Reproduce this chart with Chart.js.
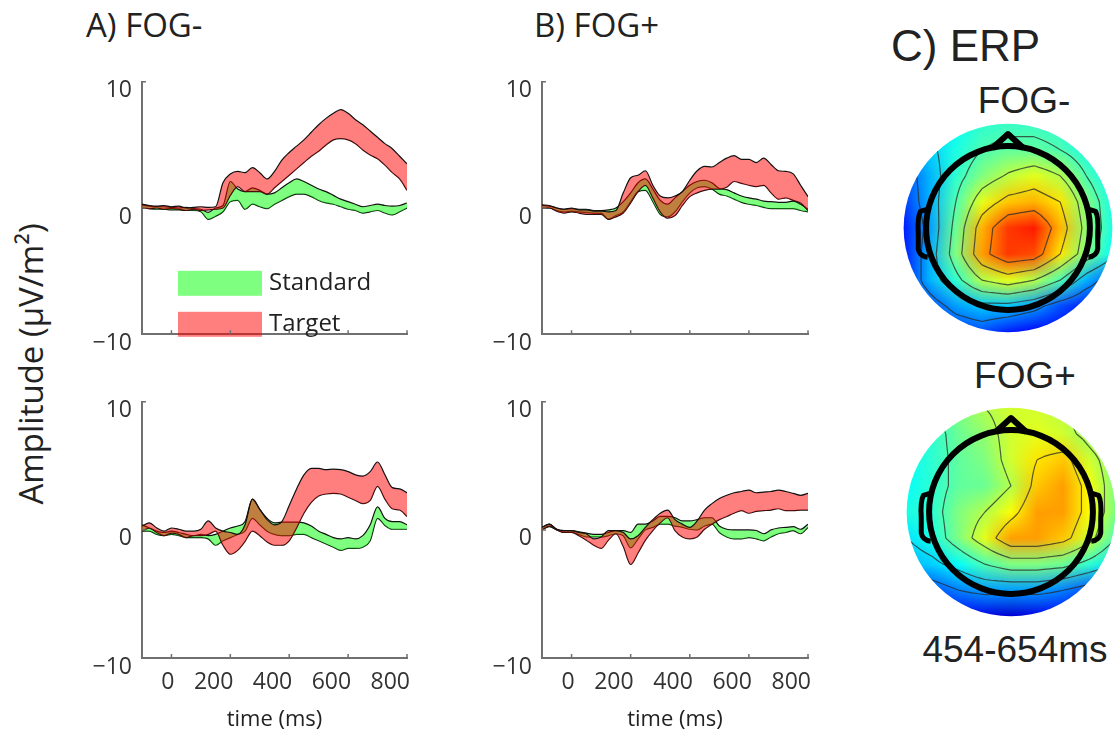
<!DOCTYPE html>
<html>
<head>
<meta charset="utf-8">
<script src="https://cdn.jsdelivr.net/npm/chart.js@4.4.0/dist/chart.umd.min.js"></script>
<style>
  body { margin: 0; width: 1115px; height: 738px; overflow: hidden; background: #fff; position: relative; }
  canvas { position: absolute; }
  .txt { position: absolute; white-space: nowrap; line-height: 1; color: #222; }
  .os { font-family: "Open Sans", sans-serif; }
  .hv { font-family: "Liberation Sans", Arial, sans-serif; }
</style>
</head>
<body>
<div class="txt os" style="left:86px;top:8px;font-size:33px">A) FOG-</div>
<div class="txt os" style="left:534px;top:8px;font-size:33px">B) FOG+</div>
<div class="txt os" style="left:30px;top:364px;font-size:33px;transform:translate(-50%,-50%) rotate(-90deg)">Amplitude (μV/m²)</div>
<div class="txt hv" style="left:891px;top:24px;font-size:44px">C) ERP</div>
<div class="txt hv" style="left:1024px;top:82px;font-size:37px;transform:translateX(-50%)">FOG-</div>
<div class="txt hv" style="left:1025px;top:357px;font-size:37px;transform:translateX(-50%)">FOG+</div>
<div class="txt hv" style="left:1015px;top:631px;font-size:37px;transform:translateX(-50%)">454-654ms</div>

<canvas id="aTop"></canvas>
<canvas id="bTop"></canvas>
<canvas id="aBot"></canvas>
<canvas id="bBot"></canvas>
<canvas id="topoMinus"></canvas>
<canvas id="topoPlus"></canvas>

<script>
// time axis (ms)
const times = [-100, -75, -50, -25, 0, 25, 50, 75, 100, 125, 150, 175, 200, 225, 250, 275, 300, 325, 350,
  375, 400, 425, 450, 475, 500, 525, 550, 575, 600, 625, 650, 675, 700, 725, 750, 775, 800];
const xTickValues = [0, 200, 400, 600, 800];
const yTickValues = [-10, 0, 10];
const legendLabels = ['Standard', 'Target'];

// A) FOG-  top row
const aTopStdUpper = [0.25, 0.15, 0.1, 0.1, 0.05, 0.0, 0.05, -0.05, -0.1, -0.35, 0.0, 0.2, 2.1, 1.5, 1.3, 1.6, 1.4, 1.1, 1.2, 1.6, 2.0, 2.3, 2.1, 1.8, 1.5, 1.3, 1.0, 0.7, 0.5, 0.3, 0.1, 0.2, 0.3, 0.2, 0.15, 0.2, 0.4];
const aTopStdLower = [0.05, -0.05, -0.1, -0.1, -0.15, -0.15, -0.2, -0.2, -0.3, -0.9, -0.65, -0.3, 0.5, 0.6, -0.1, 0.3, 0.1, -0.05, 0.3, 0.6, 0.9, 1.1, 1.1, 0.9, 0.6, 0.4, 0.3, 0.1, -0.1, -0.2, -0.4, -0.3, -0.2, -0.4, -0.55, -0.3, 0.0];
const aTopTgtUpper = [0.3, 0.2, 0.15, 0.2, 0.1, 0.15, 0.0, 0.05, 0.1, 0.05, 0.1, 2.0, 2.7, 2.9, 2.8, 3.2, 2.8, 2.3, 2.9, 3.8, 4.4, 4.9, 5.4, 6.0, 6.6, 7.1, 7.5, 7.8, 7.5, 7.0, 6.6, 6.1, 5.6, 5.1, 4.7, 4.1, 3.5];
const aTopTgtLower = [0.0, -0.05, 0.0, -0.1, -0.05, -0.1, -0.2, -0.1, -0.2, -0.15, -0.1, 0.0, 1.0, 1.7, 1.3, 1.3, 1.3, 1.1, 1.6, 2.1, 2.6, 3.1, 3.6, 4.1, 4.5, 5.0, 5.4, 5.5, 5.4, 5.1, 4.6, 4.2, 3.9, 3.4, 2.8, 2.3, 1.4];

// B) FOG+  top row
const bTopStdUpper = [0.2, 0.15, 0.0, -0.1, -0.05, -0.1, -0.1, -0.2, -0.2, -0.15, 0.0, 0.5, 1.2, 2.0, 2.3, 1.5, 0.6, 0.3, 0.8, 1.3, 1.8, 2.1, 2.2, 2.0, 1.55, 1.45, 1.2, 0.95, 0.8, 0.7, 0.55, 0.5, 0.45, 0.45, 0.55, 0.3, -0.1];
const bTopStdLower = [0.0, 0.0, -0.2, -0.3, -0.25, -0.3, -0.35, -0.4, -0.4, -0.9, -0.6, -0.3, 0.5, 1.3, 1.4, 0.5, -0.5, -0.7, -0.3, 0.5, 1.2, 1.6, 1.7, 1.5, 1.1, 0.95, 0.7, 0.45, 0.3, 0.2, 0.05, -0.05, -0.05, -0.05, -0.05, -0.2, -0.3];
const bTopTgtUpper = [0.25, 0.2, 0.0, -0.1, 0.0, -0.15, -0.15, -0.25, -0.25, -0.3, -0.2, 1.2, 2.4, 2.6, 2.95, 1.8, 0.95, 0.8, 0.95, 1.3, 2.2, 2.95, 3.3, 3.25, 3.6, 3.95, 4.15, 3.85, 3.85, 3.6, 3.95, 3.45, 2.95, 2.9, 2.7, 1.8, 0.9];
const bTopTgtLower = [0.0, 0.0, -0.25, -0.4, -0.3, -0.4, -0.5, -0.5, -0.5, -0.9, -0.7, -0.4, 0.4, 1.3, 1.8, 0.8, -0.3, -0.8, -0.6, 0.2, 0.9, 1.2, 1.4, 1.5, 1.5, 1.65, 2.1, 1.95, 1.8, 1.7, 1.8, 1.2, 0.7, 0.8, 0.6, 0.4, -0.2];

// A) FOG-  bottom row
const aBotStdUpper = [0.4, 0.15, -0.1, -0.2, -0.1, -0.2, -0.35, -0.45, -0.35, -0.45, -0.35, -0.1, 0.15, 0.3, 0.65, 2.4, 1.6, 0.9, 0.55, 0.6, 0.6, 0.6, 0.55, 0.3, -0.1, -0.35, -0.6, -0.7, -0.6, -0.7, -0.45, 0.4, 1.8, 0.9, 0.65, 0.65, 0.4];
const aBotStdLower = [-0.1, -0.1, -0.35, -0.45, -0.35, -0.45, -0.6, -0.6, -0.6, -0.7, -1.2, -0.85, -0.6, -0.35, -0.1, 0.9, 0.4, -0.1, -0.35, -0.45, -0.45, -0.35, -0.35, -0.6, -0.85, -1.1, -1.35, -1.6, -1.45, -1.45, -1.35, -0.85, 0.9, 0.35, 0.05, 0.05, 0.05];
const aBotTgtUpper = [0.3, 0.55, 0.15, -0.1, 0.15, 0.05, -0.1, -0.1, 0.05, 0.7, 0.15, -0.1, -0.2, -0.35, 0.4, 2.4, 1.6, 0.8, 0.4, 0.65, 1.9, 3.2, 4.3, 4.8, 4.8, 4.7, 4.75, 4.7, 4.55, 4.3, 4.2, 4.55, 5.3, 4.3, 3.3, 3.2, 2.9];
const aBotTgtLower = [-0.1, 0.15, -0.2, -0.45, -0.25, -0.35, -0.6, -0.45, -0.45, -0.35, -0.1, -1.2, -1.9, -1.6, -0.9, -0.1, -0.45, -0.95, -1.2, -1.2, -0.85, 0.15, 1.3, 2.15, 2.65, 2.8, 2.85, 2.8, 2.55, 2.3, 2.05, 2.3, 3.4, 2.4, 1.65, 1.55, 1.05];

// B) FOG+  bottom row
const bBotStdUpper = [0.2, 0.45, 0.05, -0.05, -0.05, -0.15, -0.25, -0.35, -0.35, -0.2, -0.05, -0.05, -0.2, 0.45, 0.45, 0.7, 1.05, 1.05, 0.95, 0.7, 0.7, 0.8, 0.95, 0.95, 0.3, 0.05, 0.0, 0.0, 0.0, -0.05, -0.3, 0.0, 0.15, 0.2, 0.25, 0.05, 0.45];
const bBotStdLower = [0.0, 0.25, 0.0, -0.2, -0.2, -0.35, -0.55, -0.55, -0.55, -0.45, -0.3, -0.45, -1.4, -0.7, 0.0, 0.2, 0.45, 0.45, 0.3, 0.2, 0.05, 0.0, 0.3, 0.45, -0.2, -0.55, -0.7, -0.7, -0.6, -0.7, -0.85, -0.55, -0.3, -0.2, -0.05, -0.3, 0.2];
const bBotTgtUpper = [0.2, 0.45, 0.05, -0.05, -0.05, -0.2, -0.3, -0.7, -0.55, -0.05, -0.05, -0.2, -0.7, -0.45, 0.2, 0.8, 1.3, 1.55, 0.8, 0.45, 0.2, 0.7, 1.55, 2.05, 2.45, 2.7, 2.9, 3.0, 3.1, 2.9, 2.95, 3.0, 3.1, 3.0, 2.85, 2.7, 2.85];
const bBotTgtLower = [0.0, 0.3, 0.0, -0.2, -0.2, -0.45, -0.8, -1.2, -1.45, -0.8, -0.3, -1.3, -2.7, -1.8, -0.8, -0.05, 0.55, 0.95, -0.05, -0.55, -0.7, -0.55, 0.05, 0.45, 0.8, 1.05, 1.3, 1.5, 1.3, 1.45, 1.5, 1.55, 1.65, 1.5, 1.5, 1.55, 1.55];

// C) scalp maps, 9x9 grid (row 0 = front), jet colour index 0..1
const topoMinus = [
  [0.30, 0.32, 0.38, 0.42, 0.43, 0.43, 0.42, 0.38, 0.35],
  [0.25, 0.33, 0.40, 0.45, 0.47, 0.47, 0.45, 0.40, 0.38],
  [0.20, 0.30, 0.42, 0.50, 0.56, 0.60, 0.55, 0.45, 0.38],
  [0.18, 0.30, 0.45, 0.60, 0.68, 0.70, 0.65, 0.50, 0.40],
  [0.15, 0.28, 0.48, 0.70, 0.82, 0.85, 0.70, 0.52, 0.40],
  [0.15, 0.30, 0.50, 0.72, 0.82, 0.80, 0.65, 0.50, 0.38],
  [0.15, 0.30, 0.42, 0.55, 0.60, 0.55, 0.45, 0.30, 0.20],
  [0.15, 0.20, 0.28, 0.32, 0.32, 0.28, 0.20, 0.15, 0.12],
  [0.15, 0.15, 0.18, 0.20, 0.15, 0.12, 0.12, 0.12, 0.12]
];
const topoPlus = [
  [0.45, 0.45, 0.50, 0.55, 0.58, 0.58, 0.55, 0.50, 0.50],
  [0.40, 0.42, 0.48, 0.52, 0.58, 0.60, 0.58, 0.52, 0.48],
  [0.38, 0.42, 0.47, 0.50, 0.58, 0.65, 0.68, 0.58, 0.50],
  [0.38, 0.42, 0.47, 0.48, 0.55, 0.68, 0.72, 0.62, 0.50],
  [0.40, 0.42, 0.50, 0.55, 0.62, 0.72, 0.72, 0.62, 0.50],
  [0.35, 0.40, 0.50, 0.60, 0.72, 0.72, 0.68, 0.58, 0.45],
  [0.30, 0.33, 0.38, 0.45, 0.50, 0.50, 0.48, 0.42, 0.35],
  [0.18, 0.20, 0.25, 0.28, 0.28, 0.28, 0.25, 0.20, 0.15],
  [0.15, 0.15, 0.12, 0.10, 0.08, 0.10, 0.12, 0.12, 0.12]
];
const contourLevels = [0.25, 0.35, 0.45, 0.55, 0.65, 0.75];

const axisGray = '#707070';
const stdFill = 'rgba(0,255,0,0.5)';
const tgtFill = 'rgba(255,0,0,0.5)';

// small inward tick marks, like matlab
const innerTicks = {
  id: 'innerTicks',
  afterDraw(chart) {
    const { ctx, chartArea, scales } = chart;
    ctx.save();
    ctx.strokeStyle = axisGray;
    ctx.lineWidth = 1.5;
    ctx.beginPath();
    xTickValues.forEach(v => {
      const px = scales.x.getPixelForValue(v);
      ctx.moveTo(px, chartArea.bottom);
      ctx.lineTo(px, chartArea.bottom - 4);
    });
    yTickValues.forEach(v => {
      const py = scales.y.getPixelForValue(v);
      ctx.moveTo(chartArea.left, py);
      ctx.lineTo(chartArea.left + 4, py);
    });
    ctx.stroke();
    ctx.restore();
  }
};

// legend boxes drawn inside the first panel
const bandLegend = {
  id: 'bandLegend',
  afterDatasetsDraw(chart, args, opts) {
    if (!opts || !opts.show) return;
    const { ctx, chartArea } = chart;
    ctx.save();
    ctx.font = '24px "Open Sans"';
    ctx.textBaseline = 'middle';
    [stdFill, tgtFill].forEach((col, i) => {
      const bx = chartArea.left + 36;
      const by = chartArea.top + 189 + i * 41;
      ctx.fillStyle = col;
      ctx.fillRect(bx, by, 84, 25);
      ctx.fillStyle = '#222';
      ctx.fillText(legendLabels[i], bx + 91, by + 12);
    });
    ctx.restore();
  }
};

function band(vals, color, fill, order) {
  return {
    data: times.map((t, i) => ({ x: t, y: vals[i] })),
    borderColor: '#111',
    borderWidth: 1.2,
    backgroundColor: color,
    fill: fill,
    order: order,
    pointRadius: 0,
    cubicInterpolationMode: 'monotone'
  };
}

function erpPanel(id, area, std, tgt, showTime, legend) {
  const canvas = document.getElementById(id);
  const leftW = 70, topPad = 15, rightPad = 25;
  const bottomH = showTime ? 738 - area.bottom : 20;
  canvas.width = area.right - area.left + leftW + rightPad;
  canvas.height = area.bottom - area.top + topPad + bottomH;
  canvas.style.left = (area.left - leftW) + 'px';
  canvas.style.top = (area.top - topPad) + 'px';

  const tickFont = { family: 'Open Sans', size: 23 };
  new Chart(canvas, {
    type: 'line',
    data: {
      datasets: [
        band(std[0], stdFill, '+1', 2), band(std[1], stdFill, false, 2),
        band(tgt[0], tgtFill, '+1', 1), band(tgt[1], tgtFill, false, 1)
      ]
    },
    options: {
      responsive: false,
      animation: false,
      events: [],
      layout: { padding: { top: topPad, right: rightPad, left: 0, bottom: 0 } },
      plugins: { legend: { display: false }, tooltip: { enabled: false }, bandLegend: { show: legend } },
      scales: {
        x: {
          type: 'linear', min: -100, max: 800,
          grid: { display: false, drawTicks: false },
          border: { color: axisGray, width: 2 },
          afterBuildTicks: s => { s.ticks = xTickValues.map(v => ({ value: v })); },
          afterFit: s => { s.height = bottomH; },
          ticks: { display: showTime, align: 'end', labelOffset: 3, padding: 11, autoSkip: false, maxRotation: 0, color: '#333', font: tickFont },
          title: { display: showTime, text: 'time (ms)', color: '#222', font: { family: 'Open Sans', size: 22 }, padding: { top: 0, bottom: 5 } }
        },
        y: {
          min: -10, max: 10,
          grid: { display: false, drawTicks: false },
          border: { color: axisGray, width: 2 },
          afterBuildTicks: s => { s.ticks = yTickValues.map(v => ({ value: v })); },
          afterFit: s => { s.width = leftW; },
          ticks: { padding: 10, labelOffset: 9, color: '#333', font: tickFont,
            callback: v => v < 0 ? '\u2212' + Math.abs(v) : String(v) }
        }
      }
    },
    plugins: [innerTicks, bandLegend]
  });
}

erpPanel('aTop', { left: 142, right: 407, top: 73, bottom: 338 }, [aTopStdUpper, aTopStdLower], [aTopTgtUpper, aTopTgtLower], false, true);
erpPanel('bTop', { left: 542, right: 808, top: 73, bottom: 338 }, [bTopStdUpper, bTopStdLower], [bTopTgtUpper, bTopTgtLower], false, false);
erpPanel('aBot', { left: 142, right: 407, top: 393, bottom: 658 }, [aBotStdUpper, aBotStdLower], [aBotTgtUpper, aBotTgtLower], true, false);
erpPanel('bBot', { left: 542, right: 808, top: 393, bottom: 658 }, [bBotStdUpper, bBotStdLower], [bBotTgtUpper, bBotTgtLower], true, false);

// ---- scalp maps ----
function jet(v) {
  v = Math.max(0, Math.min(1, v));
  const f = k => Math.round(255 * Math.min(Math.max(1.5 - Math.abs(4 * v - k), 0), 1));
  return [f(3), f(2), f(1)];
}

// finer sampling of the grid, only used for drawing the contour lines
function refine(grid, k) {
  const n = grid.length, m = (n - 1) * k + 1;
  const out = [];
  for (let r = 0; r < m; r++) {
    const row = [];
    const gr = r / k, r0 = Math.min(Math.floor(gr), n - 2), tr = gr - r0;
    for (let c = 0; c < m; c++) {
      const gc = c / k, c0 = Math.min(Math.floor(gc), n - 2), tc = gc - c0;
      const top = grid[r0][c0] * (1 - tc) + grid[r0][c0 + 1] * tc;
      const bot = grid[r0 + 1][c0] * (1 - tc) + grid[r0 + 1][c0 + 1] * tc;
      row.push(top * (1 - tr) + bot * tr);
    }
    out.push(row);
  }
  return out;
}

function contourSegs(grid, level) {
  const segs = [];
  const n = grid.length;
  for (let r = 0; r < n - 1; r++) {
    for (let c = 0; c < n - 1; c++) {
      const vals = [grid[r][c], grid[r][c + 1], grid[r + 1][c + 1], grid[r + 1][c]];
      const corners = [[c, r], [c + 1, r], [c + 1, r + 1], [c, r + 1]];
      const pts = [];
      for (let e = 0; e < 4; e++) {
        const a = vals[e], b = vals[(e + 1) % 4];
        if ((a < level) !== (b < level)) {
          const t = (level - a) / (b - a);
          const p = corners[e], q = corners[(e + 1) % 4];
          pts.push([p[0] + t * (q[0] - p[0]), p[1] + t * (q[1] - p[1])]);
        }
      }
      if (pts.length === 2) segs.push(pts);
      if (pts.length === 4) { segs.push([pts[0], pts[1]]); segs.push([pts[2], pts[3]]); }
    }
  }
  return segs;
}

const topoPlugin = {
  id: 'topo',
  beforeDatasetsDraw(chart, args, opts) {
    const grid = opts.grid;
    const { ctx, scales: { x, y } } = chart;
    const n = grid.length;
    const off = document.createElement('canvas');
    off.width = n; off.height = n;
    const octx = off.getContext('2d');
    const img = octx.createImageData(n, n);
    grid.forEach((row, r) => row.forEach((v, c) => {
      const [R, G, B] = jet(v);
      const k = (r * n + c) * 4;
      img.data[k] = R; img.data[k + 1] = G; img.data[k + 2] = B; img.data[k + 3] = 255;
    }));
    octx.putImageData(img, 0, 0);

    const cx = x.getPixelForValue(0), cy = y.getPixelForValue(0);
    const rad = x.getPixelForValue(1) - cx;
    const half = n / (n - 1);

    ctx.save();
    ctx.beginPath();
    ctx.arc(cx, cy, rad, 0, Math.PI * 2);
    ctx.clip();
    ctx.imageSmoothingEnabled = true;
    ctx.imageSmoothingQuality = 'medium';
    ctx.drawImage(off, cx - half * rad, cy - half * rad, 2 * half * rad, 2 * half * rad);

    // contour lines
    const fine = refine(grid, 4);
    const m = fine.length;
    const toPx = (gc, gr) => [cx + (-1 + gc * 2 / (m - 1)) * rad, cy + (-1 + gr * 2 / (m - 1)) * rad];
    ctx.strokeStyle = 'rgba(40,40,40,0.75)';
    ctx.lineWidth = 1.2;
    ctx.beginPath();
    contourLevels.forEach(lv => {
      contourSegs(fine, lv).forEach(s => {
        const a = toPx(s[0][0], s[0][1]), b = toPx(s[1][0], s[1][1]);
        ctx.moveTo(a[0], a[1]);
        ctx.lineTo(b[0], b[1]);
      });
    });
    ctx.stroke();
    ctx.restore();

    // head outline: ring, nose, ears
    const hr = 0.785 * rad;
    ctx.save();
    ctx.strokeStyle = '#000';
    ctx.lineWidth = 6;
    ctx.lineJoin = 'round';
    ctx.beginPath();
    ctx.arc(cx, cy, hr, 0, Math.PI * 2);
    ctx.stroke();
    ctx.beginPath();
    ctx.moveTo(cx - 0.15 * rad, cy - 0.765 * rad);
    ctx.lineTo(cx, cy - 0.9 * rad);
    ctx.lineTo(cx + 0.15 * rad, cy - 0.765 * rad);
    ctx.stroke();
    ctx.lineWidth = 5;
    [-1, 1].forEach(sd => {
      ctx.beginPath();
      ctx.moveTo(cx + sd * 0.77 * rad, cy - 0.18 * rad);
      ctx.lineTo(cx + sd * 0.84 * rad, cy - 0.16 * rad);
      ctx.quadraticCurveTo(cx + sd * 0.87 * rad, cy - 0.1 * rad, cx + sd * 0.86 * rad, cy + 0.05 * rad);
      ctx.lineTo(cx + sd * 0.86 * rad, cy + 0.2 * rad);
      ctx.quadraticCurveTo(cx + sd * 0.85 * rad, cy + 0.27 * rad, cx + sd * 0.77 * rad, cy + 0.28 * rad);
      ctx.stroke();
    });
    ctx.restore();
  }
};

function topoMap(id, cxPage, cyPage, grid) {
  const canvas = document.getElementById(id);
  const size = 240;
  canvas.width = size; canvas.height = size;
  canvas.style.left = (cxPage - size / 2) + 'px';
  canvas.style.top = (cyPage - size / 2) + 'px';
  new Chart(canvas, {
    type: 'scatter',
    data: { datasets: [] },
    options: {
      responsive: false,
      animation: false,
      events: [],
      layout: { padding: 0 },
      plugins: { legend: { display: false }, tooltip: { enabled: false }, topo: { grid: grid } },
      scales: {
        x: { display: false, min: -1.15, max: 1.15 },
        y: { display: false, min: -1.15, max: 1.15 }
      }
    },
    plugins: [topoPlugin]
  });
}

topoMap('topoMinus', 1008, 228, topoMinus);
topoMap('topoPlus', 1011, 512, topoPlus);
</script>
</body>
</html>
